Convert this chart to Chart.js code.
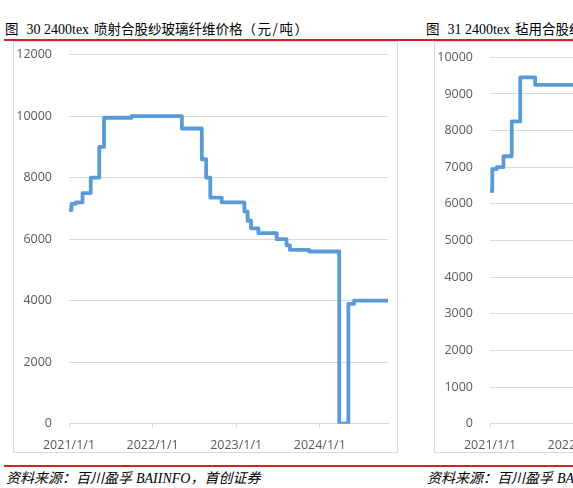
<!DOCTYPE html>
<html>
<head>
<meta charset="utf-8">
<script src="https://cdn.jsdelivr.net/npm/chart.js@4.4.1/dist/chart.umd.min.js"></script>
<style>
  body { margin: 0; width: 573px; height: 488px; overflow: hidden; background: #fff; position: relative; }
  .title { position: absolute; top: 19px; height: 18px; line-height: 18px; font-family: "Noto Sans CJK SC", sans-serif; font-size: 13.5px; color: #000; white-space: nowrap; }
  .title .num { font-family: "Liberation Serif", serif; font-size: 14px; margin: 0 5px 0 8px; }
  .title .unit { letter-spacing: 1.5px; }
  .src { position: absolute; top: 468px; height: 18px; line-height: 18px; font-family: "Noto Sans CJK SC", sans-serif; font-size: 14px; font-style: italic; color: #000; white-space: nowrap; }
  .src .en { font-family: "Liberation Serif", serif; font-style: italic; margin-left: 4px; }
  .redline { position: absolute; left: 4px; width: 569px; background: #d2232a; }
  .box { position: absolute; top: 41px; width: 385px; height: 412px; box-sizing: border-box; border: 1px solid #d9d9d9; }
  canvas { position: absolute; top: 41px; }
</style>
</head>
<body>
<div class="title" style="left:5px">图<span class="num">30 2400tex</span>喷射合股纱玻璃纤维价格<span class="unit">（元/吨）</span></div>
<div class="title" style="left:426px">图<span class="num">31 2400tex</span>毡用合股纱玻璃纤维价格<span class="unit">（元/吨）</span></div>
<div class="redline" style="top:39px;height:2px"></div>
<div class="box" style="left:13px"></div>
<div class="box" style="left:434px"></div>
<canvas id="sprayChart" width="385" height="412" style="left:13px"></canvas>
<canvas id="feltChart" width="385" height="412" style="left:434px"></canvas>
<div class="redline" style="top:465px;height:1.5px"></div>
<div class="src" style="left:6px">资料来源：百川盈孚<span class="en">BAIINFO</span>，首创证券</div>
<div class="src" style="left:427px">资料来源：百川盈孚<span class="en">BAIINFO</span>，首创证券</div>
<script>
// price change dates and new price (元/吨), step-wise
const sprayDates = ['2021-01-08', '2021-01-12', '2021-01-31', '2021-03-01', '2021-04-06', '2021-05-13', '2021-06-03',
    '2021-10-01', '2022-05-09', '2022-08-04', '2022-08-23', '2022-09-10', '2022-10-30', '2023-02-06', '2023-02-20',
    '2023-03-07', '2023-04-08', '2023-06-27', '2023-08-09', '2023-08-24', '2023-11-16', '2024-03-26', '2024-05-05',
    '2024-05-30', '2024-10-25'];
const sprayPrices = [6950, 7150, 7200, 7500, 8000, 9000, 9950,
    10000, 9600, 8600, 8000, 7350, 7200, 6900, 6600,
    6350, 6200, 6000, 5800, 5650, 5600, 0, 3900,
    4000, 4000];

const feltDates = ['2021-01-07', '2021-01-11', '2021-01-31', '2021-03-01', '2021-04-06', '2021-05-13', '2021-07-17', '2021-12-31'];
const feltPrices = [6350, 6950, 7000, 7300, 8250, 9450, 9250, 9250];

const yearTicks = ['2021-01-01', '2022-01-01', '2023-01-01', '2024-01-01'];
const yearLabels = ['2021/1/1', '2022/1/1', '2023/1/1', '2024/1/1'];

const axisEnd = '2024-10-25';

// days since 2021/1/1
const toDay = (s) => {
    const [y, m, d] = s.split('-').map(Number);
    return (Date.UTC(y, m - 1, d) - Date.UTC(2021, 0, 1)) / 86400000;
};

const tickFont = { family: '"Open Sans", sans-serif', size: 12.5 };
const tickColor = '#595959';
const gridColor = '#d9d9d9';

const buildChart = (id, dates, prices, yMax, yStep, padTop) => {
    return new Chart(document.getElementById(id), {
        type: 'line',
        data: {
            datasets: [{
                data: dates.map((d, i) => ({ x: toDay(d), y: prices[i] })),
                borderColor: '#5b9bd5',
                borderWidth: 3.8,
                stepped: true,
                pointRadius: 0,
                borderJoinStyle: 'round',
                borderCapStyle: 'round',
            }],
        },
        options: {
            responsive: false,
            animation: false,
            layout: { padding: { top: padTop, right: 10, left: 0, bottom: 0 } },
            plugins: { legend: { display: false }, tooltip: { enabled: false } },
            scales: {
                x: {
                    type: 'linear',
                    min: 0,
                    max: toDay(axisEnd),
                    afterBuildTicks: (s) => { s.ticks = yearTicks.map(d => ({ value: toDay(d) })); },
                    afterFit: (s) => { s.height = 29.3; },
                    ticks: { callback: (v, i) => yearLabels[i], color: tickColor, font: tickFont, padding: 10, maxRotation: 0, autoSkip: false },
                    grid: { drawOnChartArea: false, tickLength: 4, color: gridColor },
                    border: { color: gridColor },
                },
                y: {
                    min: 0,
                    max: yMax,
                    // fixed axis width; drop the label padding so layout.padding sets the top
                    afterFit: (s) => { s.width = 56; s.paddingTop = 0; s.paddingBottom = 0; },
                    ticks: { stepSize: yStep, callback: (v) => String(v), color: tickColor, font: tickFont, padding: 17 },
                    grid: { drawTicks: false, color: gridColor },
                    border: { display: false },
                },
            },
        },
    });
};

buildChart('sprayChart', sprayDates, sprayPrices, 12000, 2000, 13.7);
buildChart('feltChart', feltDates, feltPrices, 10000, 1000, 16.3);
</script>
</body>
</html>
